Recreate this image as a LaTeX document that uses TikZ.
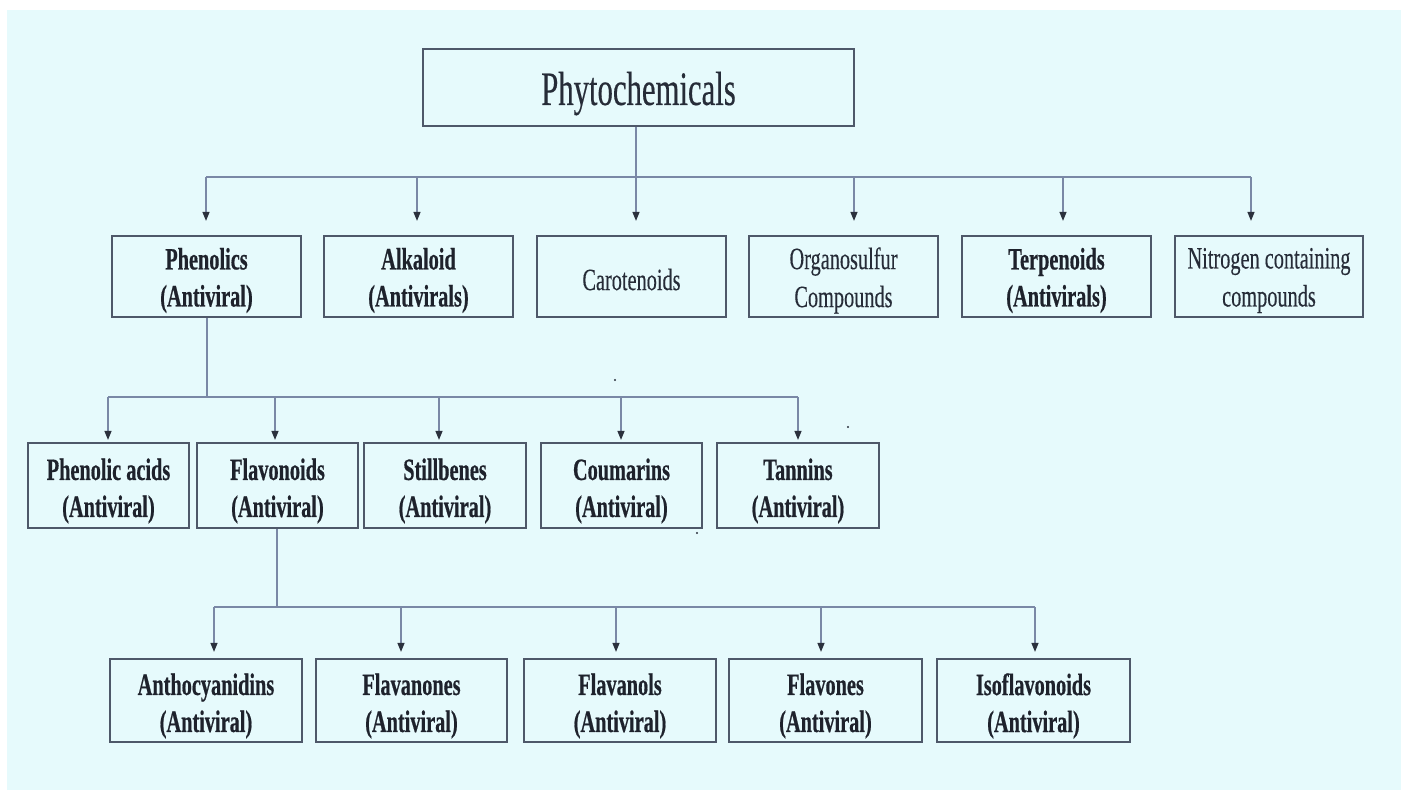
\documentclass[tikz,border=0pt]{standalone}
\usepackage{fontspec}
\setmainfont{Liberation Serif}[FakeStretch=0.655, BoldFeatures={FakeBold=0.5}]
\newfontfamily\titlefont{Liberation Serif}[FakeStretch=0.64, FakeBold=0.3]
\newfontfamily\regfont{Liberation Serif}[FakeStretch=0.655, FakeBold=0.25]
\usetikzlibrary{arrows.meta}
\definecolor{bgc}{HTML}{E6FAFC}
\definecolor{boxc}{HTML}{4E5869}
\definecolor{linec}{HTML}{7A88A6}
\definecolor{tipc}{HTML}{2B313D}
\definecolor{txtc}{HTML}{1E222C}
\definecolor{txtr}{HTML}{262C38}
\tikzset{
  box/.style={draw=boxc, line width=2.2pt, fill=bgc, inner sep=0pt},
  boxA/.style={box, minimum width=189pt, minimum height=81pt},
  boxB/.style={box, minimum width=161pt, minimum height=85pt},
  boxC/.style={box, minimum width=192pt, minimum height=83pt},
  lbl/.style={inner sep=0pt, align=center, text=txtc},
  bf/.style={lbl, font=\fontsize{31}{37}\selectfont\bfseries},
  rm/.style={lbl, text=txtr, font=\regfont\fontsize{31}{38}\selectfont},
  conn/.style={draw=linec, line width=1.3pt},
  arr/.style={conn, -{Triangle[length=9pt,width=7pt,color=tipc]}},
}
\begin{document}
\begin{tikzpicture}[x=1pt,y=-1pt]
\useasboundingbox (0,0) rectangle (1401,790);
\fill[white] (0,0) rectangle (1401,790);
\fill[bgc] (7,10) rectangle (1401,790);

% top
\node[box, minimum width=431pt, minimum height=77pt] (top) at (638.5,87.5) {};
\node[lbl, text=txtr, font=\titlefont\fontsize{48}{54}\selectfont] (topt) at ([yshift=-6pt]top.center) {Phytochemicals};

% row 1 boxes
\node[boxA] (phen) at (206.5,276.5) {};
\node[boxA] (alk)  at (418.5,276.5) {};
\node[boxA] (car)  at (631.5,276.5) {};
\node[boxA] (org)  at (843.5,276.5) {};
\node[boxA] (ter)  at (1056.5,276.5) {};
\node[boxA, minimum width=188pt] (nit) at (1269,276.5) {};
% row 1 labels
\node[bf] (phent) at ([yshift=-4pt]phen.center) {Phenolics\\(Antiviral)};
\node[bf] (alkt)  at ([yshift=-4pt]alk.center) {Alkaloid\\(Antivirals)};
\node[rm] (cart)  at ([yshift=-3pt]car.center) {Carotenoids};
\node[rm] (orgt)  at ([yshift=-4pt]org.center) {Organosulfur\\Compounds};
\node[bf] (tert)  at ([yshift=-4pt]ter.center) {Terpenoids\\(Antivirals)};
\node[rm] (nitt)  at ([yshift=-4pt]nit.center) {Nitrogen containing\\compounds};

% row 2 boxes
\node[boxB] (pac)  at (108.5,485.5) {};
\node[boxB] (flav) at (277.5,485.5) {};
\node[boxB, minimum width=162pt] (stil) at (445,485.5) {};
\node[boxB] (cou)  at (621.5,485.5) {};
\node[boxB, minimum width=162pt] (tan) at (798,485.5) {};
% row 2 labels
\node[bf] (pact)  at ([yshift=-5.5pt]pac.center) {Phenolic acids\\(Antiviral)};
\node[bf] (flavt) at ([yshift=-5.5pt]flav.center) {Flavonoids\\(Antiviral)};
\node[bf] (stilt) at ([yshift=-5.5pt]stil.center) {Stillbenes\\(Antiviral)};
\node[bf] (cout)  at ([yshift=-5.5pt]cou.center) {Coumarins\\(Antiviral)};
\node[bf] (tant)  at ([yshift=-5.5pt]tan.center) {Tannins\\(Antiviral)};

% row 3 boxes
\node[boxC] (anth) at (206,700.5) {};
\node[boxC, minimum width=191pt] (fnn) at (411.5,700.5) {};
\node[boxC] (fnl)  at (620,700.5) {};
\node[boxC, minimum width=193pt] (fno) at (825.5,700.5) {};
\node[boxC, minimum width=193pt] (iso) at (1033.5,700.5) {};
% row 3 labels
\node[bf] (antht) at ([yshift=-5.5pt]anth.center) {Anthocyanidins\\(Antiviral)};
\node[bf] (fnnt)  at ([yshift=-5.5pt]fnn.center) {Flavanones\\(Antiviral)};
\node[bf] (fnlt)  at ([yshift=-5.5pt]fnl.center) {Flavanols\\(Antiviral)};
\node[bf] (fnot)  at ([yshift=-5.5pt]fno.center) {Flavones\\(Antiviral)};
\node[bf] (isot)  at ([yshift=-5.5pt]iso.center) {Isoflavonoids\\(Antiviral)};

% level 1 connectors
\coordinate (j0) at (636,177);
\coordinate (a1) at (206,177);
\coordinate (a2) at (417,177);
\coordinate (a3) at (636,177);
\coordinate (a4) at (854,177);
\coordinate (a5) at (1063,177);
\coordinate (a6) at (1251,177);
\draw[conn] (top.south -| j0) -- (j0);
\draw[conn] (a1) -- (a6);
\foreach \c/\n in {a1/phen,a2/alk,a3/car,a4/org,a5/ter,a6/nit}
  \draw[arr, shorten >=14pt] (\c) -- (\c |- \n.north);

% level 2 connectors
\coordinate (j1) at (207,397);
\coordinate (b1) at (108,397);
\coordinate (b2) at (275,397);
\coordinate (b3) at (439,397);
\coordinate (b4) at (621,397);
\coordinate (b5) at (798,397);
\draw[conn] (phen.south -| j1) -- (j1);
\draw[conn] (b1) -- (b5);
\foreach \c/\n in {b1/pac,b2/flav,b3/stil,b4/cou,b5/tan}
  \draw[arr, shorten >=2pt] (\c) -- (\c |- \n.north);

% level 3 connectors
\coordinate (j2) at (277,607);
\coordinate (c1) at (214,607);
\coordinate (c2) at (401,607);
\coordinate (c3) at (616,607);
\coordinate (c4) at (821,607);
\coordinate (c5) at (1035,607);
\draw[conn] (flav.south -| j2) -- (j2);
\draw[conn] (c1) -- (c5);
\foreach \c/\n in {c1/anth,c2/fnn,c3/fnl,c4/fno,c5/iso}
  \draw[arr, shorten >=6pt] (\c) -- (\c |- \n.north);

% specks
\fill[tipc] (615,380) circle (1.2pt);
\fill[tipc] (848,427) circle (1.2pt);
\fill[tipc] (697,533) circle (1.2pt);
\end{tikzpicture}
\end{document}
